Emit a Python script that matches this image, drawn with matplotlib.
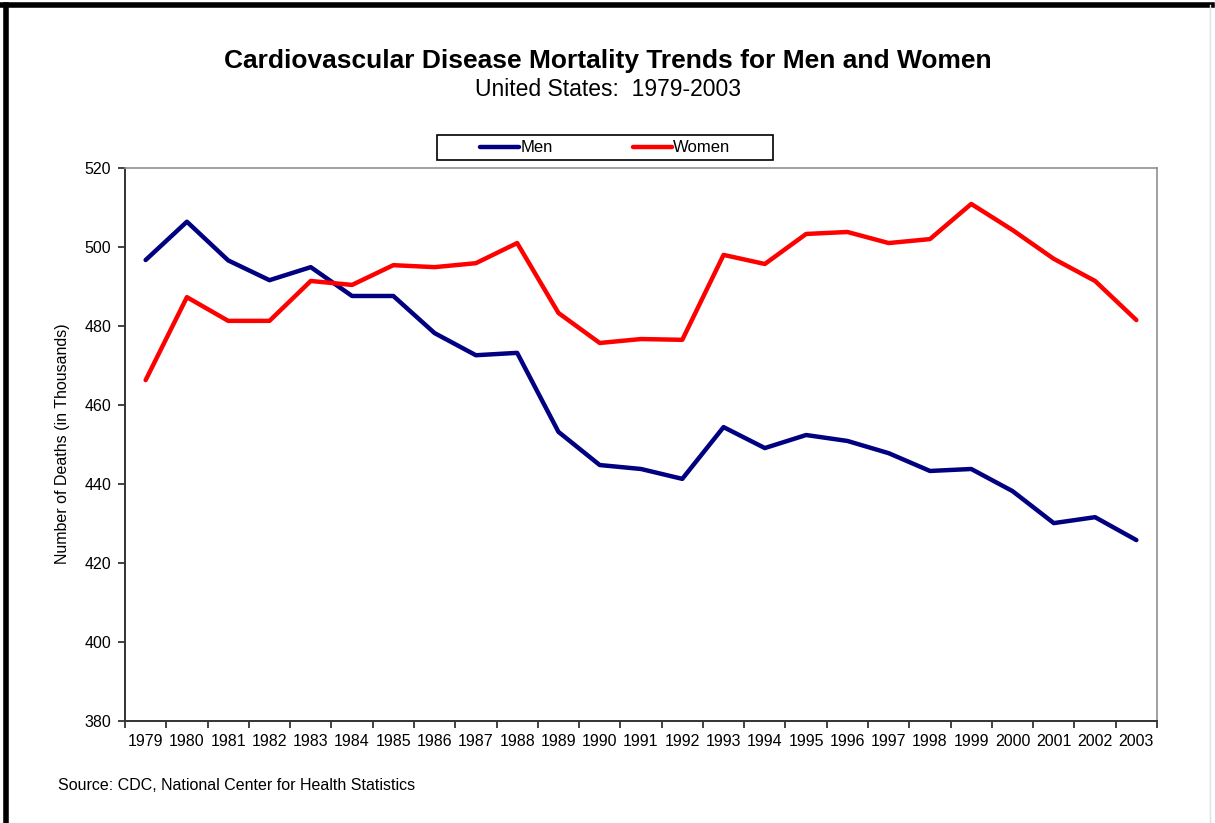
import matplotlib
matplotlib.use('Agg')
import matplotlib.pyplot as plt
from matplotlib.lines import Line2D
from matplotlib.patches import Rectangle

plt.rcParams['font.family'] = ['Liberation Sans', 'DejaVu Sans']

years = [str(y) for y in range(1979, 2004)]
men = [496.7, 506.4, 496.6, 491.6, 494.9, 487.6, 487.6, 478.2, 472.6, 473.2,
       453.2, 444.8, 443.8, 441.3, 454.4, 449.1, 452.4, 450.9, 447.8, 443.3,
       443.8, 438.2, 430.1, 431.6, 425.8]
women = [466.3, 487.3, 481.3, 481.3, 491.4, 490.4, 495.4, 494.9, 495.9, 501.0,
         483.3, 475.7, 476.7, 476.5, 498.0, 495.7, 503.3, 503.8, 501.0, 502.0,
         510.9, 504.3, 497.0, 491.4, 481.5]

fig = plt.figure(figsize=(12.15, 8.23), dpi=100)
ax = fig.add_axes([125 / 1215, 1 - 721 / 823, 1032 / 1215, 553 / 823])

x = list(range(len(years)))
ax.plot(x, men, color='#000080', lw=3.2, label='Men', solid_capstyle='round')
ax.plot(x, women, color='#ff0000', lw=3.2, label='Women', solid_capstyle='round')

ax.set_xlim(-0.5, len(years) - 0.5)
ax.set_ylim(380, 520)
ax.set_yticks(range(380, 521, 20))
ax.set_xticks(x)
ax.set_xticklabels(years)
ax.set_xticks([i - 0.5 for i in range(len(years) + 1)], minor=True)
ax.tick_params(axis='x', which='major', length=0, pad=9, labelsize=11.5)
ax.tick_params(axis='x', which='minor', length=5, width=1.2, color='#222222')
ax.tick_params(axis='y', length=5, width=1.2, color='#222222', labelsize=11.5, pad=5)

for side in ['top', 'right']:
    ax.spines[side].set_color('#909090')
    ax.spines[side].set_linewidth(1.2)
for side in ['left', 'bottom']:
    ax.spines[side].set_color('#333333')
    ax.spines[side].set_linewidth(1.4)

fig.text(62 / 1215, 1 - 444 / 823, 'Number of Deaths (in Thousands)',
         rotation=90, ha='center', va='center', fontsize=11.5)

fig.text(608 / 1215, 1 - 61 / 823,
         'Cardiovascular Disease Mortality Trends for Men and Women',
         ha='center', va='center', fontsize=19, fontweight='bold')
fig.text(608 / 1215, 1 - 90 / 823, 'United States:  1979-2003',
         ha='center', va='center', fontsize=16.5)
fig.text(58 / 1215, 1 - 786 / 823,
         'Source: CDC, National Center for Health Statistics',
         ha='left', va='center', fontsize=11.5)

# legend box
fig.patches.append(Rectangle((437 / 1215, 1 - 160 / 823), 336 / 1215, 25 / 823,
                             transform=fig.transFigure, fill=False,
                             edgecolor='black', lw=1.2))
fig.legend(loc='center', bbox_to_anchor=(605 / 1215, 1 - 148 / 823), ncol=2,
           frameon=False, fontsize=12, handlelength=2.35, handletextpad=0.05,
           columnspacing=4.8)

# outer border
fig.add_artist(Line2D([0, 1212 / 1215], [1 - 5 / 823, 1 - 5 / 823],
                      transform=fig.transFigure, color='black', lw=4))
fig.add_artist(Line2D([6 / 1215, 6 / 1215], [0, 1 - 5 / 823],
                      transform=fig.transFigure, color='black', lw=4))
fig.add_artist(Line2D([1210 / 1215, 1210 / 1215], [0, 1 - 5 / 823],
                      transform=fig.transFigure, color='#e0e0e0', lw=1))

fig.savefig('out.png', dpi=100)
